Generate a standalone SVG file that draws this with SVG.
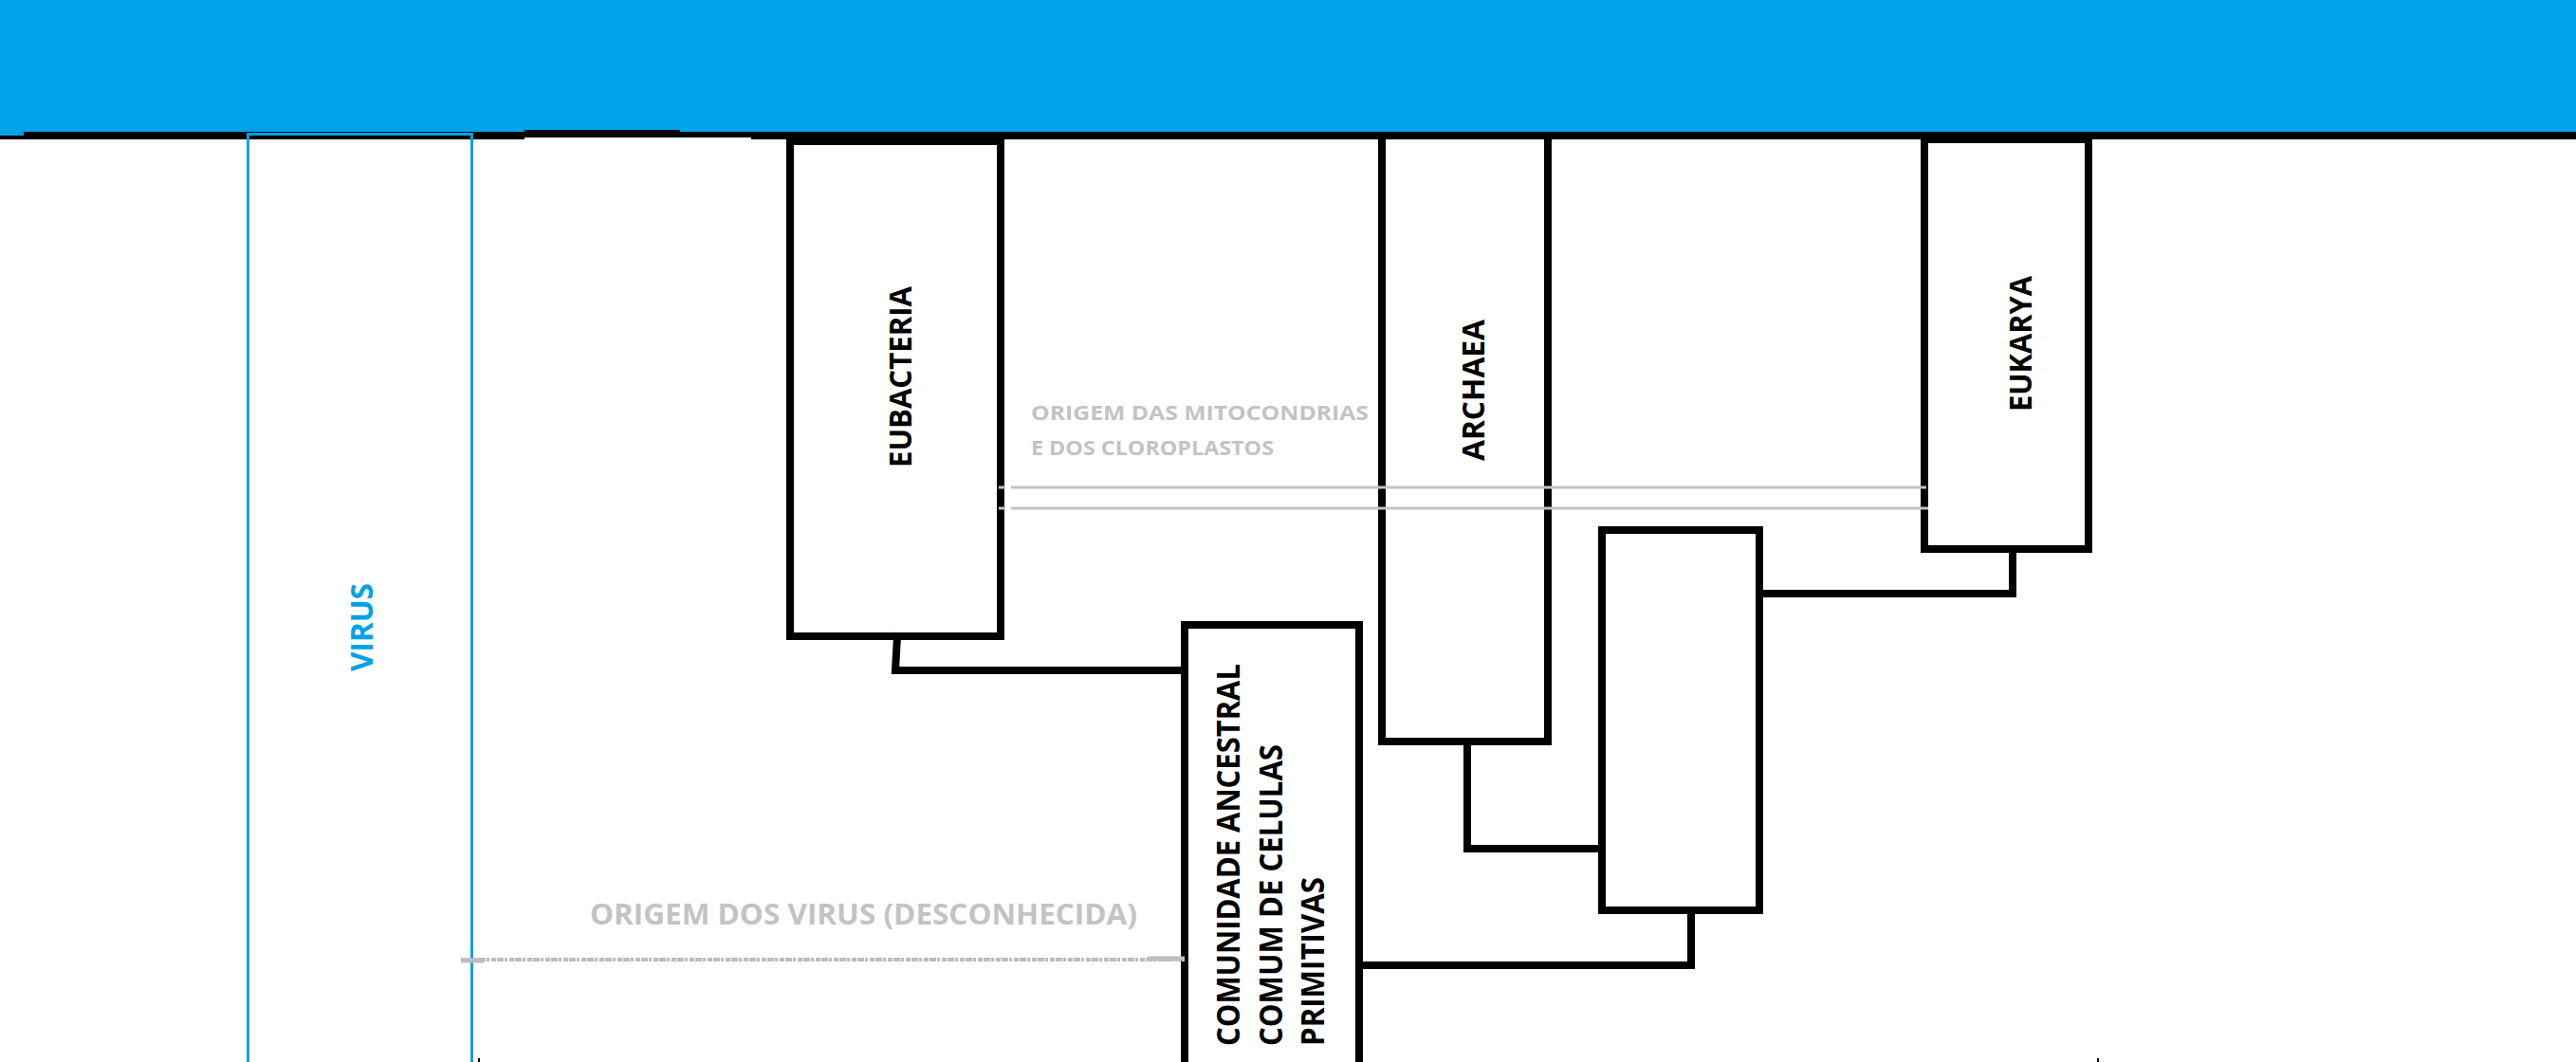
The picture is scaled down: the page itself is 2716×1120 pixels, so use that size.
<svg xmlns="http://www.w3.org/2000/svg" width="2716" height="1120" viewBox="0 0 2716 1120">
<style>
.box{fill:none;stroke:#000;stroke-width:8}
.conn{fill:none;stroke:#000;stroke-width:8;stroke-linecap:square}
.lbl{font-family:"Open Sans","Liberation Sans",sans-serif;font-weight:700;font-size:33px;fill:#000}
.note{font-family:"Open Sans","Liberation Sans",sans-serif;font-weight:700;fill:#C3C3C3}
.gray{stroke:#C3C3C3;stroke-width:3;fill:none}
</style>
<rect width="2716" height="1120" fill="#fff"/>
<g id="band">
<rect x="0" y="0" width="2716" height="139" fill="#00A2E8"/>
<rect x="0" y="139" width="25" height="4" fill="#00A2E8"/>
<rect x="25" y="139" width="528" height="8" fill="#000"/>
<rect x="0" y="143" width="25" height="4" fill="#000"/>
<rect x="553" y="137" width="164" height="8" fill="#000"/>
<rect x="717" y="139" width="75" height="6" fill="#000"/>
<rect x="792" y="139" width="1924" height="8" fill="#000"/>
</g>
<g id="virus">
<rect x="261.5" y="141.5" width="236" height="1010" fill="none" stroke="#00A2E8" stroke-width="3"/>
<text class="lbl" style="fill:#00A2E8" transform="translate(393,708) rotate(-90)" textLength="93" lengthAdjust="spacingAndGlyphs">VIRUS</text>
</g>
<g id="eubacteria">
<rect class="box" x="833" y="149" width="222" height="522"/>
<text class="lbl" transform="translate(961,493) rotate(-90)" textLength="191" lengthAdjust="spacingAndGlyphs">EUBACTERIA</text>
</g>
<g id="archaea">
<rect class="box" x="1457" y="143" width="175" height="639"/>
<text class="lbl" transform="translate(1565,486) rotate(-90)" textLength="149" lengthAdjust="spacingAndGlyphs">ARCHAEA</text>
</g>
<g id="eukarya">
<rect class="box" x="2029" y="147" width="173" height="432"/>
<text class="lbl" transform="translate(2142,434) rotate(-90)" textLength="143" lengthAdjust="spacingAndGlyphs">EUKARYA</text>
</g>
<g id="ancestral-archaea-eukarya">
<rect class="box" x="1689" y="559" width="166" height="401"/>
</g>
<g id="comunidade">
<rect class="box" x="1249" y="659" width="184" height="480"/>
<text class="lbl" style="font-size:34px" transform="translate(1307,1103) rotate(-90)" textLength="403" lengthAdjust="spacingAndGlyphs">COMUNIDADE ANCESTRAL</text>
<text class="lbl" style="font-size:34px" transform="translate(1352,1103) rotate(-90)" textLength="318" lengthAdjust="spacingAndGlyphs">COMUM DE CELULAS</text>
<text class="lbl" style="font-size:34px" transform="translate(1396,1103) rotate(-90)" textLength="178" lengthAdjust="spacingAndGlyphs">PRIMITIVAS</text>
</g>
<g id="connectors">
<path class="conn" d="M946 671 L944 707 H1249"/>
<path class="conn" d="M1547 782 V895 H1689"/>
<path class="conn" d="M2122 579 V626 H1855"/>
<path class="conn" d="M1783 960 V1018 H1433"/>
<path class="gray" d="M1053 514 H1060 M1066 514 H2031"/>
<path class="gray" d="M1053 536 H1060 M1066 536 H2033"/>
<path stroke="#BDBDBD" stroke-width="4" fill="none" stroke-dasharray="7 1 3 2 5 1" d="M486 1012 H1249"/>
<path stroke="#BDBDBD" stroke-width="5" fill="none" d="M486 1013 H510 M1210 1011 H1249"/>
</g>
<g id="notes">
<text class="note" font-size="22" x="1087" y="443" textLength="356" lengthAdjust="spacingAndGlyphs">ORIGEM DAS MITOCONDRIAS</text>
<text class="note" font-size="22" x="1087" y="480" textLength="256" lengthAdjust="spacingAndGlyphs">E DOS CLOROPLASTOS</text>
<text class="note" font-size="30" x="622" y="975" textLength="577" lengthAdjust="spacingAndGlyphs">ORIGEM DOS VIRUS (DESCONHECIDA)</text>
</g>
<rect x="504" y="1116" width="2" height="4" fill="#000"/>
<rect x="2211" y="1116" width="2" height="4" fill="#000"/>
</svg>
